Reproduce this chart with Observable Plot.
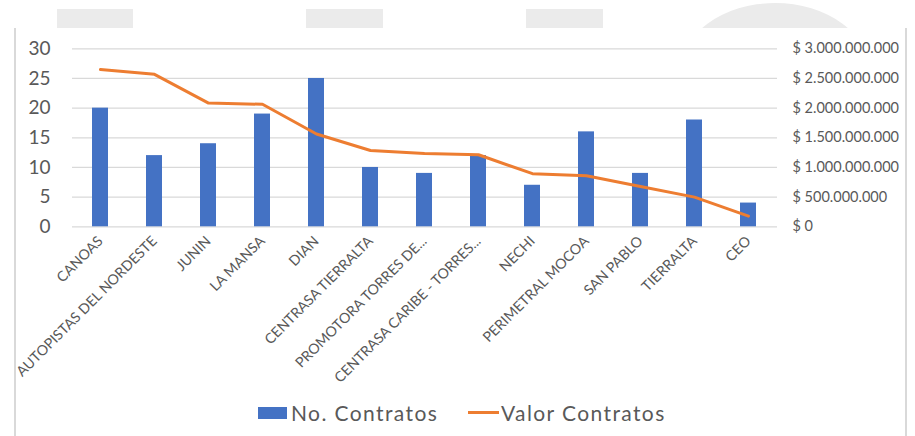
<!DOCTYPE html>
<html>
<head>
<meta charset="utf-8">
<script src="https://cdn.jsdelivr.net/npm/d3@7"></script>
<script src="https://cdn.jsdelivr.net/npm/@observablehq/plot@0.6"></script>
<style>
  html, body { margin: 0; padding: 0; background: #fff; }
  #wrap { position: relative; width: 915px; height: 436px; overflow: hidden; font-family: Lato, "Open Sans", sans-serif; }
  .deco { position: absolute; background: #ebebeb; }
  .border { position: absolute; background: #d9d9d9; width: 2px; }
  #chart { position: absolute; left: 0; top: 0; }
  .leg { position: absolute; color: #595959; font-size: 21px; letter-spacing: 1.4px; white-space: nowrap; line-height: 1; }
</style>
</head>
<body>
<div id="wrap">
  <div class="deco" style="left:57px;top:9px;width:76px;height:19px"></div>
  <div class="deco" style="left:306px;top:9px;width:77px;height:19px"></div>
  <div class="deco" style="left:526px;top:9px;width:77px;height:19px"></div>
  <div class="deco" style="left:680px;top:3px;width:190px;height:140px;border-radius:50%;clip-path:inset(0 0 115px 0)"></div>
  <div class="border" style="left:14px;top:28px;height:408px"></div>
  <div class="border" style="left:905px;top:28px;height:408px"></div>
  <div id="chart"></div>
  <div style="position:absolute;left:258px;top:407px;width:29px;height:12px;background:#4472C4"></div>
  <div class="leg" id="l1" style="left:291px;top:402px">No. Contratos</div>
  <div style="position:absolute;left:468px;top:411px;width:31px;height:3px;background:#ED7D31"></div>
  <div class="leg" id="l2" style="left:501px;top:402px">Valor Contratos</div>
</div>
<script>
const categories = ["CANOAS","AUTOPISTAS DEL NORDESTE","JUNIN","LA MANSA","DIAN","CENTRASA TIERRALTA","PROMOTORA TORRES DE...","CENTRASA CARIBE - TORRES...","NECHI","PERIMETRAL MOCOA","SAN PABLO","TIERRALTA","CEO"];
const contratos = [20, 12, 14, 19, 25, 10, 9, 12, 7, 16, 9, 18, 4];
const valores = [2650000000, 2570000000, 2085000000, 2065000000, 1565000000, 1285000000, 1235000000, 1215000000, 895000000, 860000000, 680000000, 500000000, 180000000];
const leftTicks = [0, 5, 10, 15, 20, 25, 30];
const rightTicks = [0, 500000000, 1000000000, 1500000000, 2000000000, 2500000000, 3000000000];
const valorUnit = 1e8; // 3.000.000.000 on right axis aligns with 30 on left axis

const data = categories.map((c, i) => ({cat: c, n: contratos[i], v: valores[i]}));
const fmt = v => "$ " + d3.format(",")(v).replace(/,/g, ".");

const H = 390;
const chart = Plot.plot({
  width: 915,
  height: H,
  marginLeft: 72,
  marginRight: 138,
  marginTop: 48.3,
  marginBottom: H - 226.3,
  style: {fontFamily: "Lato, 'Open Sans', sans-serif", color: "#595959", background: "transparent", overflow: "visible"},
  x: {domain: categories, paddingInner: 0.7, paddingOuter: 0.35, label: null},
  y: {domain: [0, 30], label: null},
  marks: [
    Plot.gridY(leftTicks, {stroke: "#d9d9d9", strokeOpacity: 1, strokeWidth: 1.3}),
    Plot.barY(data, {x: "cat", y: "n", fill: "#4472C4"}),
    Plot.line(data, {x: "cat", y: d => d.v / valorUnit, stroke: "#ED7D31", strokeWidth: 3, strokeLinejoin: "round", strokeLinecap: "round"}),
    Plot.axisY(leftTicks, {anchor: "left", tickSize: 0, tickPadding: 22, fontSize: 19, fill: "#595959", label: null}),
    Plot.axisY(rightTicks.map(v => v / valorUnit), {anchor: "right", tickSize: 0, tickPadding: 15, fontSize: 14.5, fill: "#595959", tickFormat: d => fmt(d * valorUnit), label: null}),
    Plot.axisX({tickRotate: -45, tickSize: 0, tickPadding: 12, fontSize: 14.2, fill: "#595959", label: null})
  ]
});
document.getElementById("chart").appendChild(chart);
</script>
</body>
</html>
